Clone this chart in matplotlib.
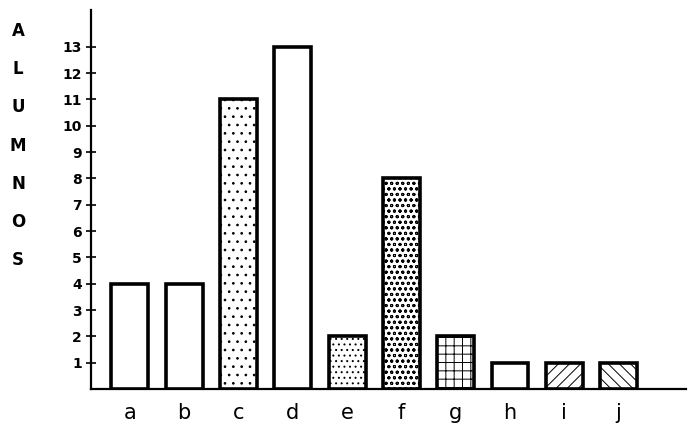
import matplotlib
matplotlib.use("Agg")
import matplotlib.pyplot as plt

categorias = ['a', 'b', 'c', 'd', 'e', 'f', 'g', 'h', 'i', 'j']
alumnos = [4, 4, 11, 13, 2, 8, 2, 1, 1, 1]
tramas = ['', '', '..', '', '...', 'ooo', '++', '', '///', '\\\\\\']
yticks = list(range(1, 14))
letras = ['A', 'L', 'U', 'M', 'N', 'O', 'S']

plt.rcParams['hatch.linewidth'] = 0.7

fig = plt.figure(figsize=(6.88, 4.32), dpi=100)
ax = fig.add_axes([0.132, 0.0995, 0.865, 0.8775])

x = range(len(categorias))
for i in x:
    ax.bar(i, alumnos[i], width=0.68, color='white', edgecolor='black',
           linewidth=2.6, hatch=tramas[i], zorder=3)

ax.set_xlim(-0.72, 10.24)
ax.set_ylim(0, 14.4)
ax.set_xticks(list(x))
ax.set_xticklabels(categorias, fontsize=15)
ax.tick_params(axis='x', length=0, pad=10)
ax.set_yticks(yticks)
ax.set_yticklabels([str(v) for v in yticks], fontsize=10, fontweight='bold')
ax.tick_params(axis='y', direction='inout', length=7, width=1.2, pad=3)

for s in ['top', 'right']:
    ax.spines[s].set_visible(False)
ax.spines['left'].set_linewidth(1.6)
ax.spines['bottom'].set_linewidth(1.6)

for k, letra in enumerate(letras):
    fig.text(18 / 688, 1 - (31 + k * 38.2) / 432, letra, fontsize=12,
             fontweight='bold', ha='center', va='center')

fig.savefig('out.png', dpi=100)
